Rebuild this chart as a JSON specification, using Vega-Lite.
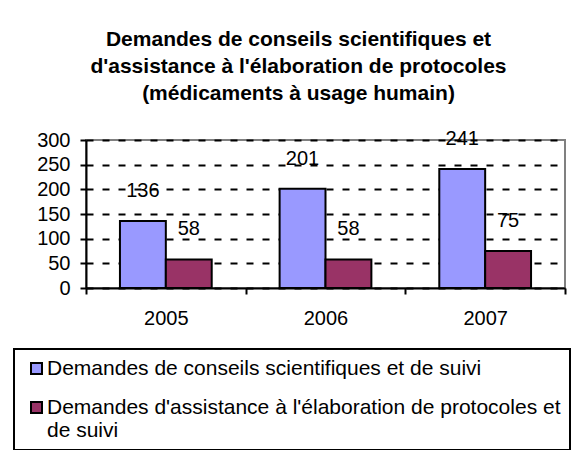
{
  "$schema": "https://vega.github.io/schema/vega-lite/v6.json",
  "width": 479,
  "height": 148,
  "autosize": {"type": "none"},
  "padding": {"left": 86, "top": 140, "right": 16, "bottom": 162},
  "background": "white",
  "title": {
    "text": ["Demandes de conseils scientifiques et", "d'assistance à l'élaboration de protocoles", "(médicaments à usage humain)"],
    "font": "Liberation Sans",
    "fontSize": 21,
    "fontWeight": "bold",
    "lineHeight": 27,
    "color": "black",
    "anchor": "middle",
    "dx": -27,
    "offset": 25
  },
  "data": {
    "values": [
      {"year": "2005", "series": "Demandes de conseils scientifiques et de suivi", "value": 136},
      {"year": "2005", "series": "Demandes d'assistance à l'élaboration de protocoles et de suivi", "value": 58},
      {"year": "2006", "series": "Demandes de conseils scientifiques et de suivi", "value": 201},
      {"year": "2006", "series": "Demandes d'assistance à l'élaboration de protocoles et de suivi", "value": 58},
      {"year": "2007", "series": "Demandes de conseils scientifiques et de suivi", "value": 241},
      {"year": "2007", "series": "Demandes d'assistance à l'élaboration de protocoles et de suivi", "value": 75}
    ]
  },
  "encoding": {
    "x": {
      "field": "year", "type": "nominal",
      "scale": {"paddingInner": 0, "paddingOuter": 0},
      "axis": {
        "title": null, "labelAngle": 0, "tickBand": "extent", "tickSize": 6, "tickWidth": 2,
        "tickColor": "black", "domainColor": "black", "domainWidth": 2,
        "labelFont": "Liberation Sans", "labelFontSize": 20, "labelColor": "black", "labelPadding": 14
      }
    },
    "xOffset": {
      "field": "series", "type": "nominal",
      "sort": ["Demandes de conseils scientifiques et de suivi", "Demandes d'assistance à l'élaboration de protocoles et de suivi"],
      "scale": {"paddingInner": 0, "paddingOuter": 0.74}
    },
    "y": {
      "field": "value", "type": "quantitative",
      "scale": {"domain": [0, 300], "nice": false},
      "axis": {
        "title": null, "values": [0, 50, 100, 150, 200, 250, 300],
        "grid": true, "gridColor": "black", "gridDash": [7, 9], "gridWidth": 2,
        "tickSize": 6, "tickWidth": 2, "tickColor": "black", "domainColor": "black", "domainWidth": 2,
        "labelFont": "Liberation Sans", "labelFontSize": 20, "labelColor": "black", "labelPadding": 10
      }
    }
  },
  "layer": [
    {
      "mark": {"type": "bar", "stroke": "black", "strokeWidth": 2},
      "encoding": {
        "color": {
          "field": "series", "type": "nominal",
          "sort": ["Demandes de conseils scientifiques et de suivi", "Demandes d'assistance à l'élaboration de protocoles et de suivi"],
          "scale": {"range": ["#9999FF", "#993366"]},
          "legend": {
            "title": null,
            "orient": "none",
            "legendX": -72,
            "legendY": 209,
            "direction": "vertical",
            "symbolType": "square",
            "symbolSize": 121,
            "symbolStrokeColor": "black",
            "symbolStrokeWidth": 2,
            "symbolOffset": 3,
            "labelFont": "Liberation Sans",
            "labelFontSize": 21,
            "labelColor": "black",
            "labelLimit": 600,
            "labelOffset": 0,
            "labelExpr": "datum.label == 'Demandes de conseils scientifiques et de suivi' ? datum.label : ['Demandes d\\'assistance à l\\'élaboration de protocoles et', 'de suivi']",
            "rowPadding": 17,
            "padding": 9,
            "strokeColor": "black",
            "fillColor": "white"
          }
        }
      }
    },
    {
      "mark": {"type": "text", "font": "Liberation Sans", "fontSize": 20, "color": "black", "baseline": "middle", "dy": -30},
      "encoding": {
        "text": {"field": "value", "type": "quantitative"}
      }
    }
  ],
  "config": {
    "view": {"stroke": "#808080", "strokeWidth": 2},
    "legend": {"strokeWidth": 2}
  }
}
